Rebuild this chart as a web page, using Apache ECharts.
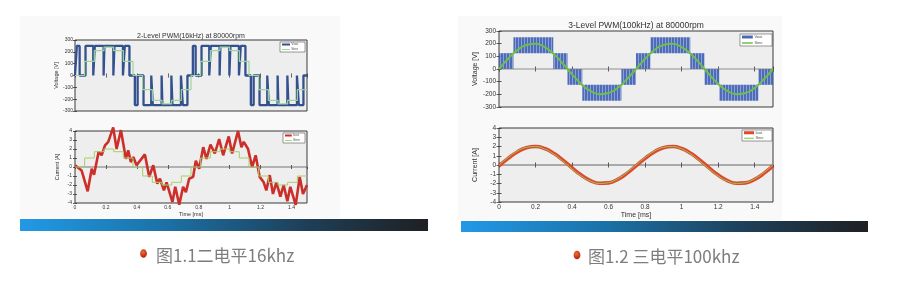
<!DOCTYPE html>
<html><head><meta charset="utf-8">
<script src="https://cdn.jsdelivr.net/npm/echarts@6/dist/echarts.min.js"></script>
<style>html,body{margin:0;padding:0;background:#fff}#c{width:900px;height:284px}</style>
</head><body><div id="c"></div>
<script>
// ---------- data ----------
const timeTicks = [0, 0.2, 0.4, 0.6, 0.8, 1, 1.2, 1.4];
// Left (2-level, 16 kHz) voltage: switching pulses [start, end] in ms
const leftPwmLevel = 250;
const leftPosPulses = [[0.012,0.030],[0.068,0.118],[0.128,0.185],[0.190,0.248],[0.255,0.310],[0.322,0.352],
                       [0.762,0.780],[0.818,0.868],[0.878,0.935],[0.940,0.998],[1.005,1.060],[1.072,1.102]];
const leftNegPulses = [[0.387,0.405],[0.443,0.493],[0.503,0.560],[0.565,0.623],[0.630,0.685],[0.697,0.727],
                       [1.137,1.155],[1.193,1.243],[1.253,1.310],[1.315,1.373],[1.380,1.435],[1.447,1.477]];
// sampled (stepped) sine references
const stepTimes = [0,0.0625,0.125,0.1875,0.25,0.3125,0.375,0.4375,0.5,0.5625,0.625,0.6875,
                   0.75,0.8125,0.875,0.9375,1,1.0625,1.125,1.1875,1.25,1.3125,1.375,1.4375,1.5];
const leftVoltSteps = [0,120,210,240,210,120,0,-120,-210,-240,-210,-120,
                       0,120,210,240,210,120,0,-120,-210,-240,-210,-120,-120];
const leftCurSteps = [0,1,1.7,2,1.7,1,0,-1,-1.7,-2,-1.7,-1,
                      0,1,1.7,2,1.7,1,0,-1,-1.7,-2,-1.7,-1,-1];
// Left current (ripple) vertices
const leftCurT = [0,0.043,0.082,0.108,0.123,0.153,0.172,0.194,0.215,0.247,0.269,0.297,0.329,0.344,0.361,0.377,0.398,0.452,0.48,0.506,
  0.532,0.549,0.575,0.592,0.63,0.648,0.674,0.699,0.717,0.738,0.764,0.781,0.803,0.829,0.85,0.876,0.904,0.932,0.958,0.994,
  1.016,1.054,1.076,1.091,1.119,1.145,1.168,1.194,1.22,1.237,1.259,1.28,1.302,1.328,1.349,1.373,1.392,1.427,1.453,1.474,1.5];
const leftCurI = [0.2,-0.4,-2.7,-0.2,-0.85,1.7,1.3,2.4,2.8,4.4,2.0,4.1,0.9,1.85,0.55,1.1,0.2,1.4,-1.1,0.2,
  -1.85,-1.3,-2.6,-1.7,-3.9,-2.2,-4.2,-2.2,-2.8,-1.3,-1.1,0.7,-0.2,2.2,0.9,2.5,1.5,3.1,1.3,3.4,
  1.5,4.0,2.2,2.8,2.0,0.0,1.3,-1.1,-1.7,-2.6,-0.9,-3.0,-1.7,-3.3,-2.0,-3.8,-2.2,-4.2,-1.1,-3.0,-2.0];
// Right (3-level, 100 kHz) voltage: switching bands
const bandStart = [0,0.079,0.297,0.375,0.456,0.67,0.75,0.829,1.047,1.125,1.206,1.42];
const bandEnd   = [0.079,0.297,0.375,0.456,0.67,0.75,0.829,1.047,1.125,1.206,1.42,1.5];
const bandLow   = [0,125,0,-125,-250,-125,0,125,0,-125,-250,-125];
const bandHigh  = [125,250,125,0,-125,0,125,250,125,0,-125,0];
const rTimes = [0,0.05,0.1,0.15,0.2,0.25,0.3,0.35,0.4,0.45,0.5,0.55,0.6,0.65,0.7,0.75,
                0.8,0.85,0.9,0.95,1,1.05,1.1,1.15,1.2,1.25,1.3,1.35,1.4,1.45,1.5];
const rightVoltSine = [0,81,149,190,199,173,118,42,-42,-118,-173,-199,-190,-149,-81,0,
                       81,149,190,199,173,118,42,-42,-118,-173,-199,-190,-149,-81,0];
const rightCur = [-0.1,0.72,1.41,1.87,2.0,1.78,1.26,0.52,-0.31,-1.09,-1.68,-1.98,-1.93,-1.55,-0.91,-0.1,
                  0.72,1.41,1.87,2.0,1.78,1.26,0.52,-0.31,-1.09,-1.68,-1.98,-1.93,-1.55,-0.91,-0.1];
const rightCurSine = [0,0.81,1.49,1.90,1.99,1.73,1.18,0.42,-0.42,-1.18,-1.73,-1.99,-1.90,-1.49,-0.81,0,
                      0.81,1.49,1.90,1.99,1.73,1.18,0.42,-0.42,-1.18,-1.73,-1.99,-1.90,-1.49,-0.81,0];
const titles = ['2-Level PWM(16kHz) at 80000rpm', '3-Level PWM(100kHz) at 80000rpm'];
const captions = ['图1.1二电平16khz', '图1.2 三电平100khz'];
const legendV = ['Vout', 'Sine'];
const legendI = ['Iout', 'Sine'];

// ---------- helpers ----------
function pulseLine(pos, neg, amp) {
  const ev = pos.map(p => [p[0], p[1], amp]).concat(neg.map(p => [p[0], p[1], -amp])).sort((a, b) => a[0] - b[0]);
  const pts = [[0, 0]];
  ev.forEach(e => { pts.push([e[0], 0], [e[0], e[2]], [e[1], e[2]], [e[1], 0]); });
  pts.push([1.5, 0]);
  return pts;
}
const zip = (a, b) => a.map((v, i) => [v, b[i]]);
const FONT = 'Liberation Sans';

const grids = [
  {left: 75, top: 40, width: 232, height: 71},
  {left: 75, top: 131, width: 232, height: 72},
  {left: 499, top: 31, width: 274, height: 76},
  {left: 499, top: 128, width: 274, height: 74}
].map(g => Object.assign(g, {show: true, backgroundColor: '#eeeeee', borderColor: '#3a3a3a', borderWidth: 1, containLabel: false}));

const xAxes = [], yAxes = [];
function addAxes(g, c) {
  const xb = {gridIndex: g, type: 'value', min: 0, max: 1.5, interval: 0.2, position: 'bottom',
    axisLine: {show: false}, splitLine: {show: false},
    axisTick: {inside: true, length: c.tick, lineStyle: {color: '#333', width: 0.8}},
    axisLabel: {show: c.xLabels, fontSize: c.fs, color: '#333', margin: c.xMargin, showMaxLabel: false, fontFamily: FONT},
    name: c.xLabels ? 'Time [ms]' : '', nameLocation: 'middle', nameGap: c.xNameGap,
    nameTextStyle: {fontSize: c.nfs, color: '#333', fontFamily: FONT}};
  xAxes.push(xb);
  xAxes.push(Object.assign({}, xb, {position: 'top', axisLabel: {show: false}, name: ''}));
  const yb = {gridIndex: g, type: 'value', min: c.ymin, max: -c.ymin, interval: c.yint, position: 'left',
    axisLine: {show: false}, splitLine: {show: false},
    axisTick: {inside: true, length: c.tick, lineStyle: {color: '#333', width: 0.8}},
    axisLabel: {fontSize: c.fs, color: '#333', margin: c.yMargin, fontFamily: FONT},
    name: c.yName, nameLocation: 'middle', nameGap: c.yNameGap, nameRotate: 90,
    nameTextStyle: {fontSize: c.nfs, color: '#333', fontFamily: FONT}};
  yAxes.push(yb);
  yAxes.push(Object.assign({}, yb, {position: 'right', axisLabel: {show: false}, name: ''}));
}
addAxes(0, {tick: 2, xLabels: false, fs: 5, nfs: 5.5, xMargin: 2, xNameGap: 8, ymin: -300, yint: 100, yMargin: 2, yName: 'Voltage [V]', yNameGap: 15});
addAxes(1, {tick: 2, xLabels: true, fs: 5, nfs: 5.5, xMargin: 2, xNameGap: 8, ymin: -4, yint: 1, yMargin: 3, yName: 'Current [A]', yNameGap: 15});
addAxes(2, {tick: 2.5, xLabels: false, fs: 6.5, nfs: 7, xMargin: 2, xNameGap: 8, ymin: -300, yint: 100, yMargin: 3, yName: 'Voltage [V]', yNameGap: 20});
addAxes(3, {tick: 2.5, xLabels: true, fs: 6.5, nfs: 7, xMargin: 2, xNameGap: 7, ymin: -4, yint: 1, yMargin: 3, yName: 'Current [A]', yNameGap: 20});

// stripe pattern for the 100 kHz switching bands
const pc = document.createElement('canvas'); pc.width = 3; pc.height = 2;
const pctx = pc.getContext('2d');
pctx.fillStyle = '#4060b4'; pctx.fillRect(0, 0, 3, 2);
pctx.fillStyle = '#8399d2'; pctx.fillRect(2, 0, 1, 2);

function ax(g) { return {xAxisIndex: 2 * g, yAxisIndex: 2 * g}; }
const line = (g, data, color, width, extra) => Object.assign({type: 'line', data, symbol: 'none', silent: true, animation: false,
  lineStyle: {color, width}}, ax(g), extra || {});

const series = [
  // left voltage
  line(0, pulseLine(leftPosPulses, leftNegPulses, leftPwmLevel), '#33508f', 2.3),
  line(0, zip(stepTimes, leftVoltSteps), '#9ed69a', 1.2, {step: 'end'}),
  // left current
  line(1, [[0, 0], [1.5, 0]], '#555', 0.8),
  line(1, zip(leftCurT, leftCurI), '#cc2e2a', 2.6, {clip: false}),
  line(1, zip(stepTimes, leftCurSteps), '#a8cf6a', 1, {step: 'end'}),
  // right voltage
  Object.assign({type: 'custom', silent: true, animation: false,
    data: bandStart.map((s, i) => [s, bandEnd[i], bandLow[i], bandHigh[i]]),
    encode: {x: [0, 1], y: [2, 3]},
    renderItem: (params, api) => {
      const p0 = api.coord([api.value(0), api.value(3)]);
      const p1 = api.coord([api.value(1), api.value(2)]);
      return {type: 'rect', shape: {x: p0[0], y: p0[1], width: p1[0] - p0[0], height: p1[1] - p0[1]},
        style: {fill: {image: pc, repeat: 'repeat'}, opacity: 0.92}};
    }}, ax(2)),
  line(2, [[0, 0], [1.5, 0]], '#777', 0.8),
  line(2, zip(rTimes, rightVoltSine), '#6cc04a', 2, {smooth: true}),
  // right current
  line(3, [[0, 0], [1.5, 0]], '#555', 0.9),
  line(3, zip(rTimes, rightCur), '#e2462c', 3.6, {smooth: true}),
  line(3, zip(rTimes, rightCurSine), '#8fcf5a', 1, {smooth: true})
];

// ---------- graphics ----------
function legendBox(x, y, w, h, items, fs) {
  const els = [{type: 'rect', shape: {x, y, width: w, height: h}, style: {fill: '#fff', stroke: '#555', lineWidth: 0.6}, z: 100}];
  items.forEach((it, i) => {
    const yy = y + h * (i + 0.5) / items.length;
    els.push({type: 'line', shape: {x1: x + 2, y1: yy, x2: x + w * 0.4, y2: yy}, style: {stroke: it.c, lineWidth: it.w}, z: 100});
    els.push({type: 'text', x: x + w * 0.45, y: yy, style: {text: it.t, fill: '#555', font: fs + 'px ' + FONT, verticalAlign: 'middle'}, z: 100});
  });
  return els;
}
function bar(x, y, w, h) {
  return {type: 'rect', shape: {x, y, width: w, height: h}, style: {fill: new echarts.graphic.LinearGradient(0, 0, 1, 0, [
    {offset: 0, color: '#2299e6'}, {offset: 0.35, color: '#1b72a8'}, {offset: 0.7, color: '#1e3f58'}, {offset: 1, color: '#1f2022'}])}};
}
function dot(cx, cy) {
  return {type: 'ellipse', shape: {cx, cy, rx: 3.4, ry: 4.3}, style: {fill: new echarts.graphic.RadialGradient(0.4, 0.35, 0.7, [
    {offset: 0, color: '#f06a3a'}, {offset: 1, color: '#b8280e'}])}};
}
const graphics = [
  {type: 'rect', shape: {x: 20, y: 16, width: 320, height: 202}, style: {fill: '#f9f9f9'}, z: -10},
  {type: 'rect', shape: {x: 458, y: 16, width: 324, height: 204}, style: {fill: '#f9f9f9'}, z: -10},
  {type: 'text', x: 191, y: 36, style: {text: titles[0], fill: '#333', font: '7px ' + FONT, align: 'center', verticalAlign: 'middle'}},
  {type: 'text', x: 636, y: 26, style: {text: titles[1], fill: '#333', font: '8.5px ' + FONT, align: 'center', verticalAlign: 'middle'}},
  bar(20, 219, 408, 12),
  bar(461, 221, 407, 11),
  dot(143.5, 253.5),
  dot(577, 255),
  {type: 'text', x: 156, y: 256, style: {text: captions[0], fill: '#7d7d7d', font: '17px "Noto Sans CJK SC"', verticalAlign: 'middle'}},
  {type: 'text', x: 588, y: 257, style: {text: captions[1], fill: '#7d7d7d', font: '17px "Noto Sans CJK SC"', verticalAlign: 'middle'}}
].concat(
  legendBox(280, 42, 25, 10, [{t: legendV[0], c: '#33508f', w: 2}, {t: legendV[1], c: '#9ed69a', w: 1}], 3.5),
  legendBox(283, 133, 22, 10, [{t: legendI[0], c: '#cc2e2a', w: 2}, {t: legendI[1], c: '#a8cf6a', w: 1}], 3.5),
  legendBox(740, 34, 32, 12, [{t: legendV[0], c: '#4a68b8', w: 3}, {t: legendV[1], c: '#6cc04a', w: 1.5}], 4),
  legendBox(742, 130, 30, 11, [{t: legendI[0], c: '#e2462c', w: 3}, {t: legendI[1], c: '#8fcf5a', w: 1.2}], 4)
);

const chart = echarts.init(document.getElementById('c'), null, {renderer: 'canvas', width: 900, height: 284});
chart.setOption({
  backgroundColor: '#ffffff',
  animation: false,
  grid: grids,
  xAxis: xAxes,
  yAxis: yAxes,
  series: series,
  graphic: graphics
});
</script></body></html>
